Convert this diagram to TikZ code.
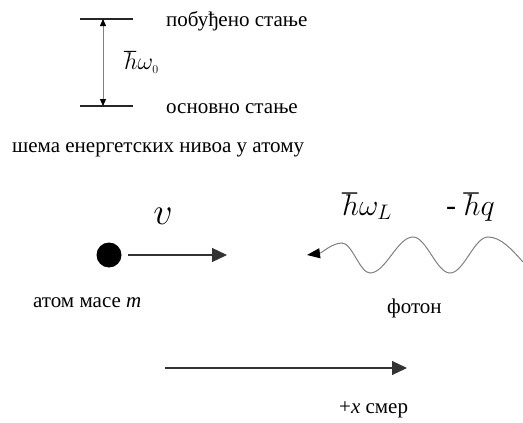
\RequirePackage{fix-cm}
\documentclass[tikz,border=0pt]{standalone}
\usepackage{amssymb}
\usepackage{fontspec}
\setmainfont{Liberation Serif}
\usetikzlibrary{arrows.meta}
\begin{document}
\begin{tikzpicture}[x=1pt,y=-1pt,
  txt/.style={anchor=base west, inner sep=0pt, font=\fontsize{21}{24}\selectfont},
  lvl/.style={line width=1.3pt, black!85},
  bigtip/.style={-{Triangle[length=15pt,width=14pt]}},
]
\useasboundingbox (0,0) rectangle (523,423);
% energy levels
\coordinate (u1) at (80,19); \coordinate (u2) at (133,19);
\coordinate (d1) at (80,106); \coordinate (d2) at (133,106);
\draw[lvl] (u1) -- (u2);
\draw[lvl] (d1) -- (d2);
\coordinate (at) at (103,19); \coordinate (ab) at (103,106);
\draw[gray, line width=0.9pt, {Triangle[length=7pt,width=6pt,black]}-{Triangle[length=7pt,width=6pt,black]}] (at) -- (ab);
\node[txt] (exc) at (166,27) {побуђено стање};
\node[txt] (gnd) at (166,113) {основно стање};
\node[txt, font=\fontsize{24}{28}\selectfont] (hw0) at (124,70) {$\hbar\omega_{\scriptscriptstyle 0}$};
\node[txt] (cap) at (12,152) {шема енергетских нивоа у атому};
% atom
\node[circle, fill=black, minimum size=25pt, inner sep=0pt] (atom) at (109,255) {};
\coordinate (vend) at (227,255);
\draw[line width=1.3pt, black!80, bigtip] (128,255) coordinate (vst) -- (vend);
\node[font=\fontsize{38}{40}\selectfont, inner sep=0pt] (v) at (163,216) {$v$};
\node[txt] (atl) at (33,307) {атом масе \textit{m}};
% photon
\coordinate (ptip) at (307,255);
\draw[gray, line width=1pt, {Triangle[length=13pt,width=10pt,black]}-] (ptip) .. controls (322,253) and (332,243) .. (342,243)
  cos (356,258) sin (370,273) cos (391.5,255) sin (413,237) cos (431.5,255) sin (450,273)
  cos (469,255) sin (488,237) cos (523,262);
\node[txt, font=\fontsize{30}{34}\selectfont] (hwl) at (342,215) {$\hbar\omega_{\scriptstyle L}$};
\node[txt, font=\fontsize{30}{34}\selectfont] (hq) at (446,215) {- $\hbar q$};
\node[txt] (fot) at (387,313) {фотон};
% direction
\coordinate (x1) at (165,368); \coordinate (x2) at (407,368);
\draw[line width=1.3pt, black!80, bigtip] (x1) -- (x2);
\node[txt] (dir) at (339,413) {+\textit{x} смер};
\end{tikzpicture}
\end{document}
